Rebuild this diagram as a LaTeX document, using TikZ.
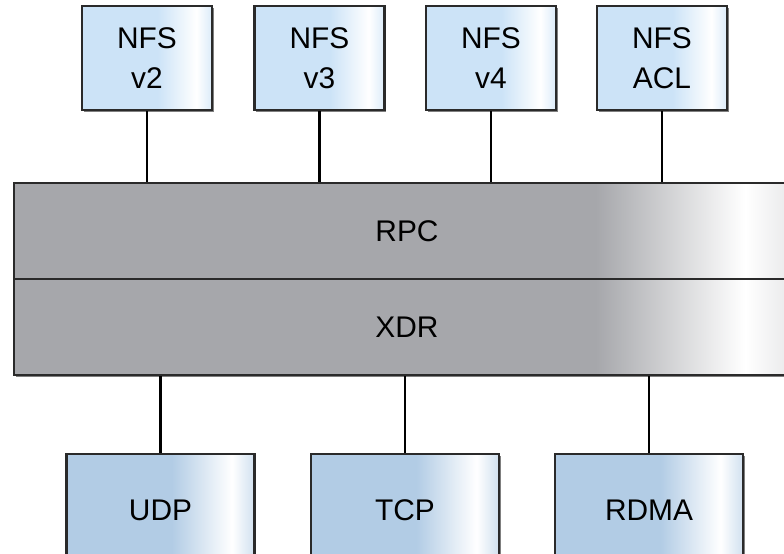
\documentclass[tikz,border=0pt]{standalone}
\usepackage{fontspec}
\setmainfont{Liberation Sans}
\usetikzlibrary{shadows}

\definecolor{layergray}{HTML}{A6A7AB}
\definecolor{protoblue}{HTML}{CCE3F7}
\definecolor{tranblue}{HTML}{B2CCE5}
\definecolor{edgegray}{HTML}{2A2A2A}

\pgfdeclarehorizontalshading{layershade}{100bp}{color(0bp)=(layergray); color(25bp)=(layergray); color(62bp)=(layergray); color(71.5bp)=(white); color(75bp)=(layergray!30); color(100bp)=(layergray!30)}
\pgfdeclarehorizontalshading{protoshade}{100bp}{color(0bp)=(protoblue); color(25bp)=(protoblue); color(54bp)=(protoblue); color(69bp)=(white); color(75bp)=(protoblue!70); color(100bp)=(protoblue!70)}
\pgfdeclarehorizontalshading{transhade}{100bp}{color(0bp)=(tranblue); color(25bp)=(tranblue); color(53bp)=(tranblue); color(69bp)=(white); color(75bp)=(tranblue!60); color(100bp)=(tranblue!60)}

\tikzset{
  box/.style={draw=edgegray, line width=0.75pt, font=\fontsize{8.5}{11.4}\selectfont,
    align=center, inner sep=0pt,
    drop shadow={shadow xshift=0.5pt, shadow yshift=-0.5pt, fill=black, opacity=0.5}},
  proto/.style={box, shading=protoshade, minimum width=1.30cm, minimum height=1.04cm},
  layer/.style={box, shading=layershade, minimum width=7.86cm, minimum height=0.96cm},
  tran/.style={box, shading=transhade, minimum width=1.88cm, minimum height=1.12cm},
  link/.style={draw=black, line width=0.75pt}
}

\begin{document}
\begin{tikzpicture}
\useasboundingbox (0,0) rectangle (7.84,-5.54);
% protocols on top
\node[proto] (v2) at (1.47,-0.58) {NFS\\v2};
\node[proto] (v3) at (3.195,-0.58) {NFS\\v3};
\node[proto] (v4) at (4.91,-0.58) {NFS\\v4};
\node[proto] (acl) at (6.62,-0.58) {NFS\\ACL};
% the two layers
\node[layer] (rpc) at (4.07,-2.31) {RPC};
\node[layer] (xdr) at (4.07,-3.27) {XDR};
% transports
\node[tran] (udp) at (1.605,-5.10) {UDP};
\node[tran] (tcp) at (4.05,-5.10) {TCP};
\node[tran] (rdma) at (6.49,-5.10) {RDMA};
% connectors
\foreach \p in {v2,v3,v4,acl}
  \draw[link] (\p.south) -- (\p.south |- rpc.north);
\foreach \t in {udp,tcp,rdma}
  \draw[link] (\t.north) -- (\t.north |- xdr.south);
\end{tikzpicture}
\end{document}
